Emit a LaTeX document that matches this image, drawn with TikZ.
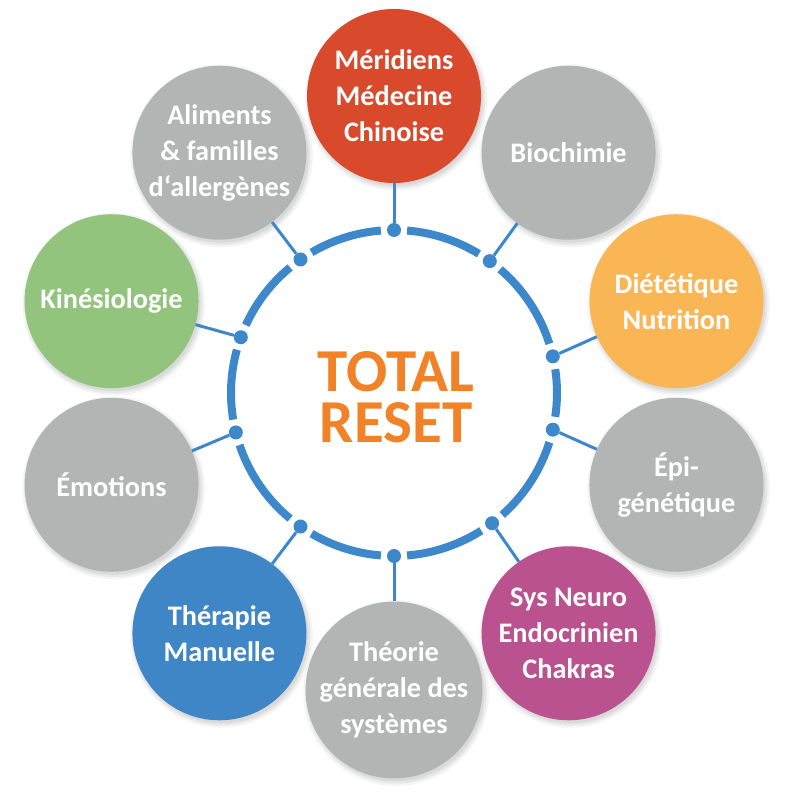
\documentclass[tikz,border=0pt]{standalone}
\usepackage{fontspec}
\setmainfont{Carlito}
\usetikzlibrary{calc,shadows}
\definecolor{cred}{HTML}{D84A2B}
\definecolor{cgray}{HTML}{B3B4B4}
\definecolor{corange}{HTML}{FAB554}
\definecolor{cgreen}{HTML}{93C47D}
\definecolor{cblue}{HTML}{3F86C7}
\definecolor{cmag}{HTML}{B9528E}
\definecolor{cring}{HTML}{3D88CB}
\definecolor{ctitle}{HTML}{F28228}
\begin{document}
\begin{tikzpicture}[x=1pt,y=-1pt,
  bub/.style={circle, minimum size=174pt, inner sep=0pt, text=white, align=center,
    font=\fontsize{28.3}{36}\selectfont\bfseries,
    general shadow={fill=black, opacity=0.04, shadow xshift=2pt, shadow yshift=-3pt, shadow scale=1.05},
    general shadow={fill=black, opacity=0.05, shadow xshift=2pt, shadow yshift=-3pt, shadow scale=1.025},
    general shadow={fill=black, opacity=0.06, shadow xshift=2pt, shadow yshift=-3pt}},
  ringarc/.style={draw=cring, line width=8pt},
  dotn/.style={circle, fill=cring, minimum size=14pt, inner sep=0pt},
  conn/.style={draw=cring, line width=3pt},
  title/.style={text=ctitle, align=center, font=\fontsize{61}{51}\selectfont\bfseries}]
\useasboundingbox[fill=white] (0,0) rectangle (800,800);
\coordinate (O) at (394,393);
\def\R{163}
\def\D{297}
% outer circles
\node[bub, fill=cred]    (mer) at ($(O)+(-90:\D)$)  {Méridiens\\Médecine\\Chinoise};
\node[bub, fill=cgray]   (bio) at ($(O)+(-54:\D)$)  {Biochimie};
\node[bub, fill=corange] (die) at ($(O)+(-18:\D)$)  {Diététique\\Nutrition};
\node[bub, fill=cgray]   (epi) at ($(O)+(18:\D)$)   {Épi-\\génétique};
\node[bub, fill=cmag]    (sys) at ($(O)+(54:\D)$)   {Sys Neuro\\Endocrinien\\Chakras};
\node[bub, fill=cgray]   (the) at ($(O)+(90:\D)$)   {Théorie\\générale des\\systèmes};
\node[bub, fill=cblue]   (thm) at ($(O)+(126:\D)$)  {Thérapie\\Manuelle};
\node[bub, fill=cgray]   (emo) at ($(O)+(162:\D)$)  {Émotions};
\node[bub, fill=cgreen]  (kin) at ($(O)+(198:\D)$)  {Kinésiologie};
\node[bub, fill=cgray]   (ali) at ($(O)+(234:\D)$)  {Aliments\\\& familles\\d‘allergènes};
% ring arcs
\foreach \a/\b in {-90/-54, -54/-13, -13/13, 13/53, 53/90, 90/125, 125/166, 166/200, 200/235, 235/270}
  \draw[ringarc] ($(O)+(\a+4.6:\R)$) arc[start angle=\a+4.6, end angle=\b-4.6, radius=\R];
% dots
\node[dotn] (dmer) at ($(O)+(-90:\R)$) {};
\node[dotn] (dbio) at ($(O)+(-54:\R)$) {};
\node[dotn] (ddie) at ($(O)+(-13:\R)$) {};
\node[dotn] (depi) at ($(O)+(13:\R)$) {};
\node[dotn] (dsys) at ($(O)+(53:\R)$) {};
\node[dotn] (dthe) at ($(O)+(90:\R)$) {};
\node[dotn] (dthm) at ($(O)+(125:\R)$) {};
\node[dotn] (demo) at ($(O)+(166:\R)$) {};
\node[dotn] (dkin) at ($(O)+(200:\R)$) {};
\node[dotn] (dali) at ($(O)+(235:\R)$) {};
% connectors
\foreach \n in {mer,bio,die,epi,sys,the,thm,emo,kin,ali}
  \draw[conn] (d\n) -- (\n);
% title
\node[title] (tt) at ($(O)+(2,4)$) {TOTAL\\RESET};
\end{tikzpicture}
\end{document}
